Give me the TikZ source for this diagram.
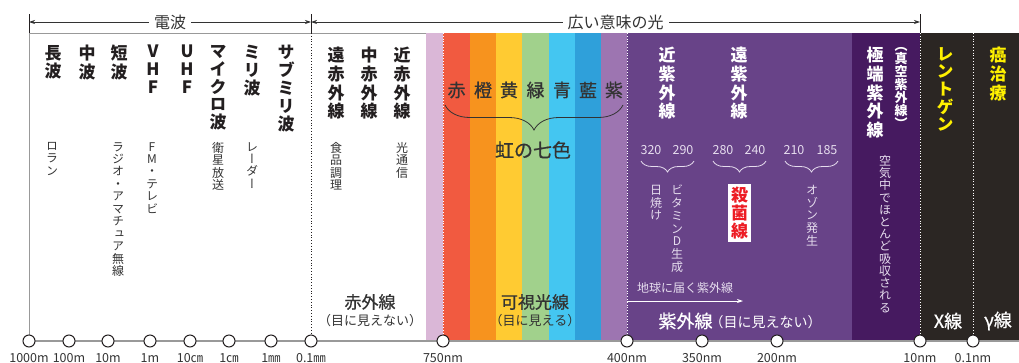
\documentclass[tikz,border=0pt]{standalone}
\usepackage{fontspec}
\setmainfont{Noto Sans CJK JP}
\newfontfamily\vjp[RawFeature=+vert]{Noto Sans CJK JP}
\newfontfamily\jpm[FakeBold=0.7]{Noto Sans CJK JP}
\usetikzlibrary{decorations.pathreplacing,arrows.meta}
\ExplSyntaxOn
\NewDocumentCommand\vstk{O{1.1}m}{\vbox{\baselineskip=#1em\lineskiplimit=-100pt\lineskip=0pt\tl_map_inline:nn{#2}{\hbox_to_wd:nn{1em}{\hss##1\hss}}}}
\ExplSyntaxOff
\definecolor{ink}{HTML}{231F20}
\definecolor{ink2}{HTML}{333333}
\definecolor{lav}{HTML}{E6DDEE}
\definecolor{yel}{HTML}{FFF100}
\definecolor{redtxt}{HTML}{ED1C24}
\definecolor{cpink}{HTML}{DAB7D7}
\definecolor{cred}{HTML}{F15A40}
\definecolor{corange}{HTML}{F7931E}
\definecolor{cyellow}{HTML}{FFCB32}
\definecolor{cgreen}{HTML}{A1D18C}
\definecolor{clblue}{HTML}{44C6F1}
\definecolor{cblue}{HTML}{2FA0DA}
\definecolor{cviolet}{HTML}{9D75B1}
\definecolor{cuv}{HTML}{684388}
\definecolor{cexuv}{HTML}{461A60}
\definecolor{cdark}{HTML}{2B2623}
\definecolor{lgray}{HTML}{999999}
\begin{document}
\begin{tikzpicture}[x=1pt,y=-1pt,
  hd/.style={font=\vjp\bfseries\fontsize{17}{17}\selectfont,text=ink,anchor=north,inner sep=0pt},
  sub/.style={font=\vjp\fontsize{12}{12}\selectfont,text=ink2,anchor=north,inner sep=0pt},
  whd/.style={hd,text=white},
  yhd/.style={hd,text=yel},
  wsub/.style={sub,text=lav},
  axl/.style={font=\fontsize{12.5}{12.5}\selectfont,text=ink2,anchor=base,inner sep=0pt},
  dot/.style={circle,draw=ink,fill=white,line width=1pt,minimum size=12pt,inner sep=0pt},
  wdots/.style={draw=white,dotted,line width=0.8pt},
  bline/.style={draw=ink2,line width=0.7pt},
  tip/.style={{Stealth[length=6pt,width=4pt]}-{Stealth[length=6pt,width=4pt]}},
  mlab/.style={font=\fontsize{13}{13}\selectfont,text=ink2,inner sep=0pt},
  big/.style={font=\jpm\fontsize{17}{17}\selectfont,text=ink2,inner sep=0pt},
  num/.style={font=\fontsize{12.5}{12.5}\selectfont,text=lav,inner sep=0pt},
  brc/.style={decorate,decoration={brace,mirror,amplitude=#1}},
]
\useasboundingbox (0,0) rectangle (1019,362);
% colour bands
\fill[cpink] (426,33) rectangle (443,341);
\fill[cred] (443,33) rectangle (470,341);
\fill[corange] (470,33) rectangle (496,341);
\fill[cyellow] (496,33) rectangle (522,341);
\fill[cgreen] (522,33) rectangle (549,341);
\fill[clblue] (549,33) rectangle (575,341);
\fill[cblue] (575,33) rectangle (601,341);
\fill[cviolet] (601,33) rectangle (627,341);
\fill[cuv] (627,33) rectangle (852,341);
\fill[cexuv] (852,33) rectangle (920,341);
\fill[cdark] (920,33) rectangle (1019,341);
% frame lines
\draw[lgray,line width=0.8pt] (29,341) -- (29,33) -- (426,33);
\draw[ink,dotted,line width=0.8pt] (311,33) -- (311,341);
\draw[wdots] (443,33) -- (443,341);
\draw[wdots] (627,33) -- (627,341);
\draw[wdots] (920,33) -- (920,341);
\draw[wdots] (973,33) -- (973,341);
% top bracket
\draw[ink,line width=0.9pt] (29,14) -- (29,33);
\draw[ink,line width=0.9pt] (311,14) -- (311,33);
\draw[ink,line width=0.9pt] (920,14) -- (920,33);
\coordinate (tL) at (29,22);
\coordinate (tM) at (311,22);
\coordinate (tR) at (920,22);
\draw[bline,tip] (tL) -- (tM) node[midway,fill=white,inner xsep=5pt,inner ysep=1pt,font=\fontsize{16}{16}\selectfont,text=ink2] (denpa) {電波};
\draw[bline,tip] (tM) -- (tR) node[midway,fill=white,inner xsep=5pt,inner ysep=1pt,font=\fontsize{16}{16}\selectfont,text=ink2] (hikari) {広い意味の光};
% axis
\coordinate (p1000m) at (29,341);
\coordinate (p100m) at (69,341);
\coordinate (p10m) at (108,341);
\coordinate (p1m) at (150,341);
\coordinate (p10cm) at (190,341);
\coordinate (p1cm) at (229,341);
\coordinate (p1mm) at (271,341);
\coordinate (p01mm) at (311,341);
\coordinate (p750) at (443,341);
\coordinate (p400) at (627,341);
\coordinate (p350) at (702,341);
\coordinate (p200) at (777,341);
\coordinate (p10nm) at (920,341);
\coordinate (p01nm) at (973,341);
\coordinate (pend) at (1019,341);
\draw[lgray,line width=1.5pt] (p1000m) -- (pend);
\foreach \p/\t in {1000m/1000m,100m/100m,10m/10m,1m/1m,10cm/10㎝,1cm/1㎝,1mm/1㎜,01mm/0.1㎜,750/750nm,400/400nm,350/350nm,200/200nm,10nm/10nm,01nm/0.1nm}{
  \node[dot] (d\p) at (p\p) {};
  \node[axl] (l\p) at ([yshift=-21pt]p\p) {\t};
}
% radio waves
\node[hd] (chou) at (53,45) {\vstk{長波}};
\node[hd] (chu) at (87,45) {\vstk{中波}};
\node[hd] (tan) at (119,45) {\vstk{短波}};
\node[hd] (vhf) at (153,45) {\vstk[1.05]{VHF}};
\node[hd] (uhf) at (187,45) {\vstk[1.05]{UHF}};
\node[hd] (micro) at (218,45) {\vstk[1.05]{マイクロ波}};
\node[hd] (milli) at (252,45) {\vstk[1.05]{ミリ波}};
\node[hd] (submilli) at (286,45) {\vstk[1.05]{サブミリ波}};
\node[sub] (loran) at (52,142) {\vstk[1.04]{ロラン}};
\node[sub] (radio) at (118,142) {\vstk[1.04]{ラジオ・アマチュア無線}};
\node[sub] (fmtv) at (152,142) {\vstk[1.04]{FM・テレビ}};
\node[sub] (eisei) at (218,142) {\vstk[1.04]{衛星放送}};
\node[sub] (radar) at (252,142) {\vstk[1.04]{レーダー}};
% infrared
\node[hd] (enseki) at (336,47) {\vstk{遠赤外線}};
\node[hd] (chuseki) at (369,47) {\vstk{中赤外線}};
\node[hd] (kinseki) at (402,47) {\vstk{近赤外線}};
\node[sub] (shoku) at (336,142) {\vstk[1.04]{食品調理}};
\node[sub] (hikaritsu) at (402,142) {\vstk[1.04]{光通信}};
\node[big] (sekigai) at (370,302) {赤外線};
\node[mlab] (sekimie) at (370,321) {（目に見えない）};
% visible
\foreach \n/\x/\c in {aka/456.5/赤,dai/483/橙,ki/509/黄,midori/535.5/緑,ao/562/青,ai/588/藍,murasaki/614/紫}{
  \node[font=\jpm\fontsize{18}{18}\selectfont,text=ink2,inner sep=0pt] (\n) at (\x,90) {\c};
}
\coordinate (brL) at (445,105);
\coordinate (brR) at (623,105);
\draw[ink2,line width=0.8pt,brc=25pt] (brL) -- (brR);
\node[font=\jpm\fontsize{19}{19}\selectfont,text=ink2,inner sep=0pt] (niji) at (533,150) {虹の七色};
\node[big] (kashi) at (535,302) {可視光線};
\node[mlab] (kashimie) at (535,321) {（目に見える）};
% ultraviolet
\node[whd] (kinshi) at (667,47) {\vstk{近紫外線}};
\node[whd] (enshi) at (739,47) {\vstk{遠紫外線}};
\node[num] (n320) at (651,150) {320};
\node[num] (n290) at (683,150) {290};
\node[num] (n280) at (723,150) {280};
\node[num] (n240) at (755,150) {240};
\node[num] (n210) at (794,150) {210};
\node[num] (n185) at (827,150) {185};
\coordinate (b1L) at (641,161); \coordinate (b1R) at (694,161);
\coordinate (b2L) at (713,161); \coordinate (b2R) at (766,161);
\coordinate (b3L) at (785,161); \coordinate (b3R) at (838,161);
\draw[lav,line width=0.8pt,brc=11pt] (b1L) -- (b1R);
\draw[lav,line width=0.8pt,brc=11pt] (b2L) -- (b2R);
\draw[lav,line width=0.8pt,brc=11pt] (b3L) -- (b3R);
\node[wsub] (hiyake) at (656,185) {\vstk[1.06]{日焼け}};
\node[wsub] (vitd) at (677,185) {\vstk[1.06]{ビタミンD生成}};
\node[hd,fill=white,text=redtxt,anchor=center,inner xsep=3pt,inner ysep=3pt] (sakkin) at (739.5,213) {\vstk[1.06]{殺菌線}};
\node[wsub] (ozone) at (812,185) {\vstk[1.06]{オゾン発生}};
\node[font=\fontsize{12}{12}\selectfont,text=lav,inner sep=0pt] (chikyu) at (685,288) {地球に届く紫外線};
\coordinate (arS) at (627,301);
\coordinate (arE) at (743,301);
\draw[white,line width=0.8pt,-{Stealth[length=6pt,width=4pt]}] (arS) -- (arE);
\node[text=white,inner sep=0pt] (shigai) at (740,321) {{\jpm\fontsize{18}{18}\selectfont 紫外線}{\fontsize{14}{14}\selectfont\kern-3pt（目に見えない）}};
% extreme UV
\node[whd] (kyokutan) at (875,47) {\vstk{極端紫外線}};
\node[whd,font=\vjp\bfseries\fontsize{13}{13}\selectfont] (shinku) at (901,47) {\vstk[1.0]{（真空紫外線）}};
\node[wsub] (kuuki) at (885,155) {\vstk[1.02]{空気中でほとんど吸収される}};
% x-ray and gamma
\node[yhd] (roentgen) at (945,47) {\vstk[1.04]{レントゲン}};
\node[yhd] (gan) at (998,47) {\vstk[1.12]{癌治療}};
\node[font=\jpm\fontsize{18}{18}\selectfont,text=white,inner sep=0pt] (xsen) at (948,321) {X線};
\node[font=\jpm\fontsize{18}{18}\selectfont,text=white,inner sep=0pt] (gsen) at (998,321) {γ線};
\end{tikzpicture}
\end{document}
